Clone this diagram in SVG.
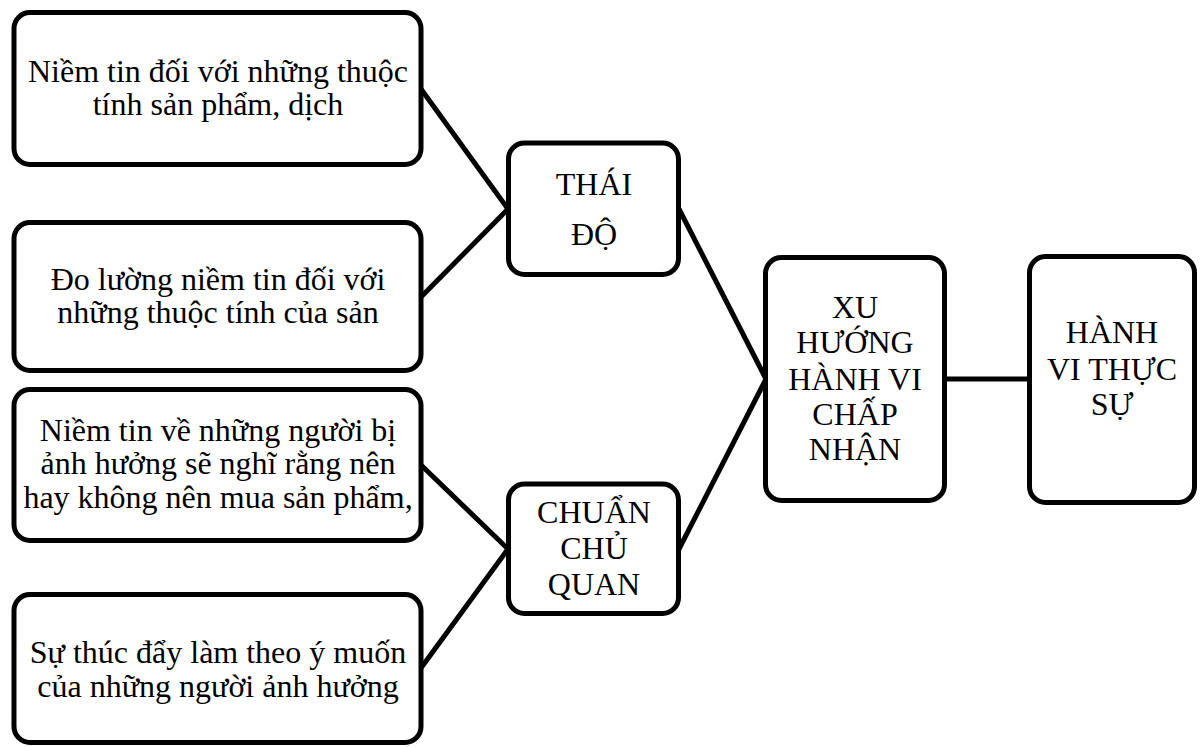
<svg xmlns="http://www.w3.org/2000/svg" width="1203" height="747" viewBox="0 0 1203 747">
  <style>
    .box { fill: #ffffff; stroke: #000000; stroke-width: 5; }
    .link { stroke: #000000; stroke-width: 5; fill: none; stroke-linecap: round; }
    .label { font-size: 32px; fill: #000000; text-anchor: middle; }
  </style>
  <rect width="1203" height="747" fill="#ffffff"/>

  <!-- connectors -->
  <g id="connectors">
    <line class="link" x1="421" y1="89" x2="508" y2="209"/>
    <line class="link" x1="421" y1="297" x2="508" y2="209"/>
    <line class="link" x1="421" y1="465" x2="508" y2="549"/>
    <line class="link" x1="421" y1="668" x2="508" y2="549"/>
    <line class="link" x1="679" y1="209" x2="766" y2="379"/>
    <line class="link" x1="679" y1="549" x2="766" y2="379"/>
    <line class="link" x1="944" y1="379" x2="1030" y2="379"/>
  </g>

  <g font-family="'Liberation Serif', 'DejaVu Serif', serif">
  <!-- belief boxes -->
  <g id="belief-attributes">
    <rect class="box" x="14" y="12.5" width="407" height="152" rx="16"/>
    <text class="label" x="218" y="82">Niềm tin đối với những thuộc</text>
    <text class="label" x="218" y="115">tính sản phẩm, dịch</text>
  </g>
  <g id="measure-beliefs">
    <rect class="box" x="14" y="222.5" width="407" height="148" rx="16"/>
    <text class="label" x="218" y="290">Đo lường niềm tin đối với</text>
    <text class="label" x="218" y="323">những thuộc tính của sản</text>
  </g>
  <g id="normative-beliefs">
    <rect class="box" x="14" y="389.5" width="407" height="151" rx="16"/>
    <text class="label" x="218" y="441">Niềm tin về những người bị</text>
    <text class="label" x="218" y="474">ảnh hưởng sẽ nghĩ rằng nên</text>
    <text class="label" x="218" y="508">hay không nên mua sản phẩm,</text>
  </g>
  <g id="motivation">
    <rect class="box" x="14" y="594.5" width="407" height="148" rx="16"/>
    <text class="label" x="218" y="663">Sự thúc đẩy làm theo ý muốn</text>
    <text class="label" x="218" y="697">của những người ảnh hưởng</text>
  </g>

  <!-- middle column -->
  <g id="attitude">
    <rect class="box" x="508.5" y="143" width="170" height="131.5" rx="16"/>
    <text class="label" x="594" y="195">THÁI</text>
    <text class="label" x="594" y="245">ĐỘ</text>
  </g>
  <g id="subjective-norm">
    <rect class="box" x="508.5" y="484" width="170" height="129.5" rx="16"/>
    <text class="label" x="594" y="523">CHUẨN</text>
    <text class="label" x="594" y="559">CHỦ</text>
    <text class="label" x="594" y="595">QUAN</text>
  </g>

  <!-- intention and behaviour -->
  <g id="intention">
    <rect class="box" x="765.5" y="257.5" width="179" height="243" rx="16"/>
    <text class="label" x="855" y="318">XU</text>
    <text class="label" x="855" y="353">HƯỚNG</text>
    <text class="label" x="855" y="390">HÀNH VI</text>
    <text class="label" x="855" y="425">CHẤP</text>
    <text class="label" x="855" y="460">NHẬN</text>
  </g>
  <g id="behaviour">
    <rect class="box" x="1029.5" y="256.5" width="165" height="246" rx="16"/>
    <text class="label" x="1112" y="343">HÀNH</text>
    <text class="label" x="1112" y="380">VI THỰC</text>
    <text class="label" x="1112" y="415">SỰ</text>
  </g>
  </g>
</svg>
